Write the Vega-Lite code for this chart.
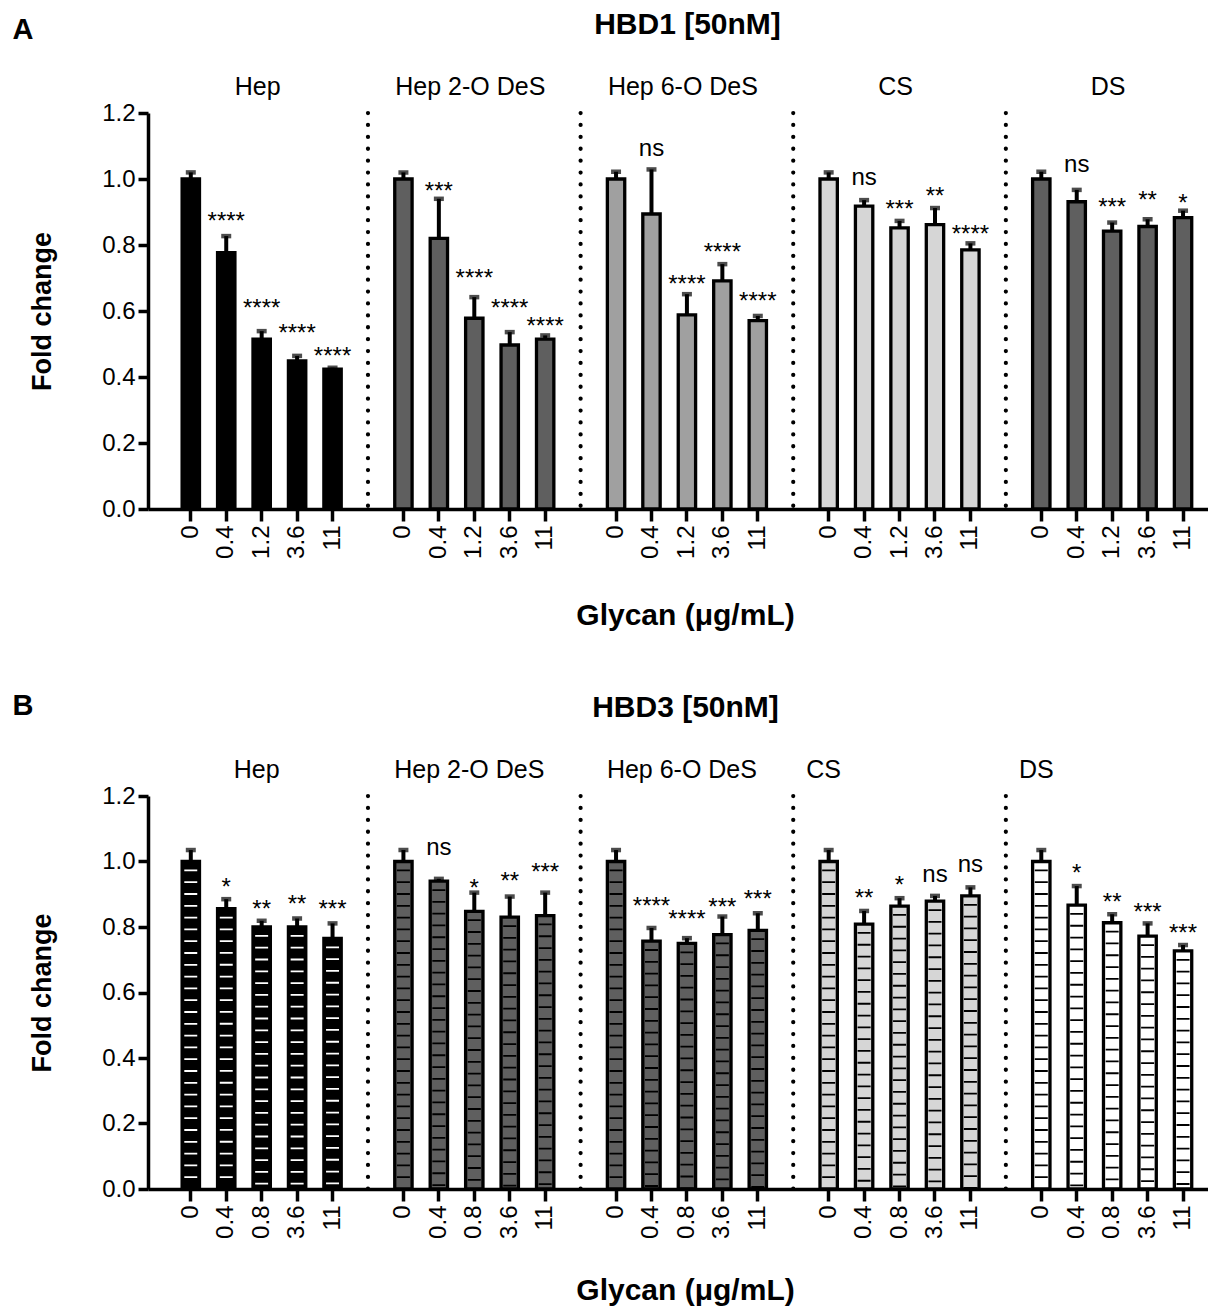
{
  "$schema": "https://vega.github.io/schema/vega-lite/v6.json",
  "padding": {"left": 12, "top": 9, "right": 0, "bottom": 0},
  "background": "white",
  "spacing": 60,
  "resolve": {"scale": {"color": "independent", "stroke": "independent"}},
  "config": {
    "font": "Liberation Sans",
    "view": {"stroke": null},
    "axis": {"grid": false, "domainColor": "#000", "tickColor": "#000", "labelColor": "#000", "titleColor": "#000", "labelFont": "Liberation Sans", "titleFont": "Liberation Sans"}
  },
  "datasets": {
    "hbd1": [
      {"g": "Hep", "c": "0", "k": "Hep|0", "v": 1.0, "e": 1.02, "s": "", "a": null},
      {"g": "Hep", "c": "0.4", "k": "Hep|0.4", "v": 0.777, "e": 0.827, "s": "****", "a": 0.891},
      {"g": "Hep", "c": "1.2", "k": "Hep|1.2", "v": 0.515, "e": 0.539, "s": "****", "a": 0.627},
      {"g": "Hep", "c": "3.6", "k": "Hep|3.6", "v": 0.449, "e": 0.464, "s": "****", "a": 0.552},
      {"g": "Hep", "c": "11", "k": "Hep|11", "v": 0.424, "e": 0.428, "s": "****", "a": 0.482},
      {"g": "Hep 2-O DeS", "c": "0", "k": "Hep 2-O DeS|0", "v": 1.0, "e": 1.02, "s": "", "a": null},
      {"g": "Hep 2-O DeS", "c": "0.4", "k": "Hep 2-O DeS|0.4", "v": 0.82, "e": 0.94, "s": "***", "a": 0.982},
      {"g": "Hep 2-O DeS", "c": "1.2", "k": "Hep 2-O DeS|1.2", "v": 0.578, "e": 0.642, "s": "****", "a": 0.718},
      {"g": "Hep 2-O DeS", "c": "3.6", "k": "Hep 2-O DeS|3.6", "v": 0.497, "e": 0.536, "s": "****", "a": 0.627},
      {"g": "Hep 2-O DeS", "c": "11", "k": "Hep 2-O DeS|11", "v": 0.515, "e": 0.526, "s": "****", "a": 0.573},
      {"g": "Hep 6-O DeS", "c": "0", "k": "Hep 6-O DeS|0", "v": 1.0, "e": 1.022, "s": "", "a": null},
      {"g": "Hep 6-O DeS", "c": "0.4", "k": "Hep 6-O DeS|0.4", "v": 0.894, "e": 1.029, "s": "ns", "a": 1.088},
      {"g": "Hep 6-O DeS", "c": "1.2", "k": "Hep 6-O DeS|1.2", "v": 0.588, "e": 0.651, "s": "****", "a": 0.70},
      {"g": "Hep 6-O DeS", "c": "3.6", "k": "Hep 6-O DeS|3.6", "v": 0.691, "e": 0.742, "s": "****", "a": 0.797},
      {"g": "Hep 6-O DeS", "c": "11", "k": "Hep 6-O DeS|11", "v": 0.571, "e": 0.585, "s": "****", "a": 0.648},
      {"g": "CS", "c": "0", "k": "CS|0", "v": 1.0, "e": 1.02, "s": "", "a": null},
      {"g": "CS", "c": "0.4", "k": "CS|0.4", "v": 0.918, "e": 0.936, "s": "ns", "a": 1.0},
      {"g": "CS", "c": "1.2", "k": "CS|1.2", "v": 0.852, "e": 0.873, "s": "***", "a": 0.927},
      {"g": "CS", "c": "3.6", "k": "CS|3.6", "v": 0.862, "e": 0.912, "s": "**", "a": 0.967},
      {"g": "CS", "c": "11", "k": "CS|11", "v": 0.785, "e": 0.805, "s": "****", "a": 0.852},
      {"g": "DS", "c": "0", "k": "DS|0", "v": 1.0, "e": 1.022, "s": "", "a": null},
      {"g": "DS", "c": "0.4", "k": "DS|0.4", "v": 0.931, "e": 0.967, "s": "ns", "a": 1.039},
      {"g": "DS", "c": "1.2", "k": "DS|1.2", "v": 0.842, "e": 0.868, "s": "***", "a": 0.933},
      {"g": "DS", "c": "3.6", "k": "DS|3.6", "v": 0.856, "e": 0.878, "s": "**", "a": 0.955},
      {"g": "DS", "c": "11", "k": "DS|11", "v": 0.883, "e": 0.904, "s": "*", "a": 0.945}
    ],
    "hbd3": [
      {"g": "Hep", "c": "0", "k": "Hep|0", "v": 1.0, "e": 1.035, "s": "", "a": null},
      {"g": "Hep", "c": "0.4", "k": "Hep|0.4", "v": 0.856, "e": 0.885, "s": "*", "a": 0.94},
      {"g": "Hep", "c": "0.8", "k": "Hep|0.8", "v": 0.8, "e": 0.819, "s": "**", "a": 0.872},
      {"g": "Hep", "c": "3.6", "k": "Hep|3.6", "v": 0.8, "e": 0.826, "s": "**", "a": 0.89},
      {"g": "Hep", "c": "11", "k": "Hep|11", "v": 0.765, "e": 0.811, "s": "***", "a": 0.872},
      {"g": "Hep 2-O DeS", "c": "0", "k": "Hep 2-O DeS|0", "v": 1.0, "e": 1.035, "s": "", "a": null},
      {"g": "Hep 2-O DeS", "c": "0.4", "k": "Hep 2-O DeS|0.4", "v": 0.94, "e": 0.947, "s": "ns", "a": 1.038},
      {"g": "Hep 2-O DeS", "c": "0.8", "k": "Hep 2-O DeS|0.8", "v": 0.848, "e": 0.905, "s": "*", "a": 0.937},
      {"g": "Hep 2-O DeS", "c": "3.6", "k": "Hep 2-O DeS|3.6", "v": 0.83, "e": 0.893, "s": "**", "a": 0.958},
      {"g": "Hep 2-O DeS", "c": "11", "k": "Hep 2-O DeS|11", "v": 0.835, "e": 0.905, "s": "***", "a": 0.986},
      {"g": "Hep 6-O DeS", "c": "0", "k": "Hep 6-O DeS|0", "v": 1.0, "e": 1.035, "s": "", "a": null},
      {"g": "Hep 6-O DeS", "c": "0.4", "k": "Hep 6-O DeS|0.4", "v": 0.757, "e": 0.797, "s": "****", "a": 0.882},
      {"g": "Hep 6-O DeS", "c": "0.8", "k": "Hep 6-O DeS|0.8", "v": 0.75, "e": 0.766, "s": "****", "a": 0.842},
      {"g": "Hep 6-O DeS", "c": "3.6", "k": "Hep 6-O DeS|3.6", "v": 0.777, "e": 0.832, "s": "***", "a": 0.878},
      {"g": "Hep 6-O DeS", "c": "11", "k": "Hep 6-O DeS|11", "v": 0.79, "e": 0.842, "s": "***", "a": 0.903},
      {"g": "CS", "c": "0", "k": "CS|0", "v": 1.0, "e": 1.035, "s": "", "a": null},
      {"g": "CS", "c": "0.4", "k": "CS|0.4", "v": 0.809, "e": 0.849, "s": "**", "a": 0.906},
      {"g": "CS", "c": "0.8", "k": "CS|0.8", "v": 0.864, "e": 0.888, "s": "*", "a": 0.946},
      {"g": "CS", "c": "3.6", "k": "CS|3.6", "v": 0.879, "e": 0.895, "s": "ns", "a": 0.955},
      {"g": "CS", "c": "11", "k": "CS|11", "v": 0.895, "e": 0.921, "s": "ns", "a": 0.986},
      {"g": "DS", "c": "0", "k": "DS|0", "v": 1.0, "e": 1.035, "s": "", "a": null},
      {"g": "DS", "c": "0.4", "k": "DS|0.4", "v": 0.867, "e": 0.925, "s": "*", "a": 0.983},
      {"g": "DS", "c": "0.8", "k": "DS|0.8", "v": 0.813, "e": 0.839, "s": "**", "a": 0.894},
      {"g": "DS", "c": "3.6", "k": "DS|3.6", "v": 0.772, "e": 0.811, "s": "***", "a": 0.863},
      {"g": "DS", "c": "11", "k": "DS|11", "v": 0.727, "e": 0.745, "s": "***", "a": 0.799}
    ],
    "seps": [{"sep": "gap1"}, {"sep": "gap2"}, {"sep": "gap3"}, {"sep": "gap4"}]
  },
  "vconcat": [
    {
      "width": 1060,
      "height": 396,
      "resolve": {"axis": {"x": "independent", "y": "independent"}},
      "layer": [
        {
          "data": {"name": "hbd1"},
          "mark": {"type": "bar", "stroke": "#000", "strokeWidth": 3.3},
          "encoding": {
            "x": {"field": "k", "type": "nominal",
              "scale": {"domain": ["Hep|0","Hep|0.4","Hep|1.2","Hep|3.6","Hep|11","gap1","Hep 2-O DeS|0","Hep 2-O DeS|0.4","Hep 2-O DeS|1.2","Hep 2-O DeS|3.6","Hep 2-O DeS|11","gap2","Hep 6-O DeS|0","Hep 6-O DeS|0.4","Hep 6-O DeS|1.2","Hep 6-O DeS|3.6","Hep 6-O DeS|11","gap3","CS|0","CS|0.4","CS|1.2","CS|3.6","CS|11","gap4","DS|0","DS|0.4","DS|1.2","DS|3.6","DS|11"], "paddingInner": 0.51, "paddingOuter": 0.711, "align": 0.677},
              "axis": {"values": ["Hep|0","Hep|0.4","Hep|1.2","Hep|3.6","Hep|11","Hep 2-O DeS|0","Hep 2-O DeS|0.4","Hep 2-O DeS|1.2","Hep 2-O DeS|3.6","Hep 2-O DeS|11","Hep 6-O DeS|0","Hep 6-O DeS|0.4","Hep 6-O DeS|1.2","Hep 6-O DeS|3.6","Hep 6-O DeS|11","CS|0","CS|0.4","CS|1.2","CS|3.6","CS|11","DS|0","DS|0.4","DS|1.2","DS|3.6","DS|11"],
                "labelExpr": "split(datum.value,'|')[1]", "labelAngle": -90, "labelFontSize": 24, "tickSize": 12, "tickWidth": 3.5, "domainWidth": 3.5, "labelPadding": 4, "labelOverlap": false,
                "title": "Glycan (μg/mL)", "titleFontSize": 30, "titleFontWeight": "bold", "titlePadding": 42, "titleX": 537}},
            "y": {"field": "v", "type": "quantitative", "scale": {"domain": [0, 1.2], "nice": false},
              "axis": {"title": "Fold change", "titleFontSize": 27, "titleFontWeight": "bold", "titlePadding": 45, "values": [0, 0.2, 0.4, 0.6, 0.8, 1.0, 1.2], "format": ".1f", "labelFontSize": 24, "tickSize": 10, "tickWidth": 3.5, "domainWidth": 3.5, "labelPadding": 3}},
            "color": {"field": "g", "type": "nominal", "legend": null,
              "scale": {"domain": ["Hep","Hep 2-O DeS","Hep 6-O DeS","CS","DS"], "range": ["#000000","#5f5f5f","#a0a0a0","#d6d6d6","#5f5f5f"]}}
          }
        },
        {
          "data": {"name": "seps"},
          "mark": {"type": "rule", "strokeDash": [0.1, 11.8], "strokeCap": "round", "strokeWidth": 4.2, "color": "#000"},
          "encoding": {
            "x": {"field": "sep", "type": "nominal",
              "axis": {"orient": "top", "values": ["Hep|1.2","Hep 2-O DeS|1.2","Hep 6-O DeS|1.2","CS|1.2","DS|1.2"], "labelExpr": "split(datum.value,'|')[0]", "domain": false, "ticks": false, "labelAngle": 0, "labelFontSize": 25, "labelPadding": 14, "labelOffset": -4,
                "title": "HBD1 [50nM]", "titleFontSize": 30, "titleFontWeight": "bold", "titlePadding": 35, "titleX": 539}}
          }
        },
        {
          "data": {"name": "hbd1"},
          "mark": {"type": "rule", "strokeWidth": 4, "color": "#000"},
          "encoding": {
            "x": {"field": "k", "type": "nominal", "axis": null},
            "y": {"field": "v", "type": "quantitative", "axis": null},
            "y2": {"field": "e"}
          }
        },
        {
          "data": {"name": "hbd1"},
          "mark": {"type": "tick", "thickness": 4.5, "size": 10, "color": "#000"},
          "encoding": {
            "x": {"field": "k", "type": "nominal", "axis": null},
            "y": {"field": "e", "type": "quantitative",
              "axis": {"orient": "left", "domain": false, "ticks": false, "labels": false, "title": "A", "titleAngle": 0, "titleAlign": "left", "titleBaseline": "alphabetic", "titleX": -136, "titleY": -75, "titleFontSize": 29, "titleFontWeight": "bold", "titlePadding": 0}}
          }
        },
        {
          "data": {"name": "hbd1"},
          "transform": [{"filter": "datum.s != 'ns' && datum.s != ''"}],
          "mark": {"type": "text", "fontSize": 24, "baseline": "middle", "dy": 7, "color": "#000"},
          "encoding": {
            "x": {"field": "k", "type": "nominal", "axis": null},
            "y": {"field": "a", "type": "quantitative", "axis": null},
            "text": {"field": "s", "type": "nominal"}
          }
        },
        {
          "data": {"name": "hbd1"},
          "transform": [{"filter": "datum.s == 'ns'"}],
          "mark": {"type": "text", "fontSize": 24, "baseline": "middle", "dy": -1, "color": "#000"},
          "encoding": {
            "x": {"field": "k", "type": "nominal", "axis": null},
            "y": {"field": "a", "type": "quantitative", "axis": null},
            "text": {"field": "s", "type": "nominal"}
          }
        }
      ]
    },
    {
      "width": 1060,
      "height": 393,
      "resolve": {"axis": {"x": "independent", "y": "independent"}},
      "layer": [
        {
          "data": {"name": "hbd3"},
          "mark": {"type": "bar", "strokeWidth": 0},
          "encoding": {
            "x": {"field": "k", "type": "nominal",
              "scale": {"domain": ["Hep|0","Hep|0.4","Hep|0.8","Hep|3.6","Hep|11","gap1","Hep 2-O DeS|0","Hep 2-O DeS|0.4","Hep 2-O DeS|0.8","Hep 2-O DeS|3.6","Hep 2-O DeS|11","gap2","Hep 6-O DeS|0","Hep 6-O DeS|0.4","Hep 6-O DeS|0.8","Hep 6-O DeS|3.6","Hep 6-O DeS|11","gap3","CS|0","CS|0.4","CS|0.8","CS|3.6","CS|11","gap4","DS|0","DS|0.4","DS|0.8","DS|3.6","DS|11"], "paddingInner": 0.51, "paddingOuter": 0.711, "align": 0.677},
              "axis": {"values": ["Hep|0","Hep|0.4","Hep|0.8","Hep|3.6","Hep|11","Hep 2-O DeS|0","Hep 2-O DeS|0.4","Hep 2-O DeS|0.8","Hep 2-O DeS|3.6","Hep 2-O DeS|11","Hep 6-O DeS|0","Hep 6-O DeS|0.4","Hep 6-O DeS|0.8","Hep 6-O DeS|3.6","Hep 6-O DeS|11","CS|0","CS|0.4","CS|0.8","CS|3.6","CS|11","DS|0","DS|0.4","DS|0.8","DS|3.6","DS|11"],
                "labelExpr": "split(datum.value,'|')[1]", "labelAngle": -90, "labelFontSize": 24, "tickSize": 12, "tickWidth": 3.5, "domainWidth": 3.5, "labelPadding": 4, "labelOverlap": false,
                "title": "Glycan (μg/mL)", "titleFontSize": 30, "titleFontWeight": "bold", "titlePadding": 37, "titleX": 537}},
            "y": {"field": "v", "type": "quantitative", "scale": {"domain": [0, 1.2], "nice": false},
              "axis": {"title": "Fold change", "titleFontSize": 27, "titleFontWeight": "bold", "titlePadding": 45, "values": [0, 0.2, 0.4, 0.6, 0.8, 1.0, 1.2], "format": ".1f", "labelFontSize": 24, "tickSize": 10, "tickWidth": 3.5, "domainWidth": 3.5, "labelPadding": 3}},
            "color": {"field": "g", "type": "nominal", "legend": null,
              "scale": {"domain": ["Hep","Hep 2-O DeS","Hep 6-O DeS","CS","DS"], "range": ["#000000","#5f5f5f","#5f5f5f","#d6d6d6","#ffffff"]}}
          }
        },
        {
          "data": {"name": "hbd3"},
          "mark": {"type": "rule", "strokeWidth": 13, "strokeDash": [1.8, 10], "strokeDashOffset": 3.8},
          "encoding": {
            "x": {"field": "k", "type": "nominal", "axis": null},
            "y": {"field": "v", "type": "quantitative", "axis": null},
            "y2": {"datum": 0},
            "stroke": {"field": "g", "type": "nominal", "legend": null,
              "scale": {"domain": ["Hep","Hep 2-O DeS","Hep 6-O DeS","CS","DS"], "range": ["#ffffff","#000000","#000000","#000000","#000000"]}}
          }
        },
        {
          "data": {"name": "hbd3"},
          "mark": {"type": "bar", "fill": "transparent", "stroke": "#000", "strokeWidth": 3.3},
          "encoding": {
            "x": {"field": "k", "type": "nominal", "axis": null},
            "y": {"field": "v", "type": "quantitative", "axis": null}
          }
        },
        {
          "data": {"name": "seps"},
          "mark": {"type": "rule", "strokeDash": [0.1, 11.8], "strokeCap": "round", "strokeWidth": 4.2, "color": "#000"},
          "encoding": {
            "x": {"field": "sep", "type": "nominal",
              "axis": {"orient": "top", "values": ["Hep|0.8","Hep 2-O DeS|0.8","Hep 6-O DeS|0.8","CS|0","DS|0"], "labelExpr": "split(datum.value,'|')[0]", "domain": false, "ticks": false, "labelAngle": 0, "labelFontSize": 25, "labelPadding": 14, "labelOffset": -5,
                "title": "HBD3 [50nM]", "titleFontSize": 30, "titleFontWeight": "bold", "titlePadding": 35, "titleX": 537}}
          }
        },
        {
          "data": {"name": "hbd3"},
          "mark": {"type": "rule", "strokeWidth": 4, "color": "#000"},
          "encoding": {
            "x": {"field": "k", "type": "nominal", "axis": null},
            "y": {"field": "v", "type": "quantitative", "axis": null},
            "y2": {"field": "e"}
          }
        },
        {
          "data": {"name": "hbd3"},
          "mark": {"type": "tick", "thickness": 4.5, "size": 10, "color": "#000"},
          "encoding": {
            "x": {"field": "k", "type": "nominal", "axis": null},
            "y": {"field": "e", "type": "quantitative",
              "axis": {"orient": "left", "domain": false, "ticks": false, "labels": false, "title": "B", "titleAngle": 0, "titleAlign": "left", "titleBaseline": "alphabetic", "titleX": -136, "titleY": -82, "titleFontSize": 29, "titleFontWeight": "bold", "titlePadding": 0}}
          }
        },
        {
          "data": {"name": "hbd3"},
          "transform": [{"filter": "datum.s != 'ns' && datum.s != ''"}],
          "mark": {"type": "text", "fontSize": 24, "baseline": "middle", "dy": 7, "color": "#000"},
          "encoding": {
            "x": {"field": "k", "type": "nominal", "axis": null},
            "y": {"field": "a", "type": "quantitative", "axis": null},
            "text": {"field": "s", "type": "nominal"}
          }
        },
        {
          "data": {"name": "hbd3"},
          "transform": [{"filter": "datum.s == 'ns'"}],
          "mark": {"type": "text", "fontSize": 24, "baseline": "middle", "dy": -1, "color": "#000"},
          "encoding": {
            "x": {"field": "k", "type": "nominal", "axis": null},
            "y": {"field": "a", "type": "quantitative", "axis": null},
            "text": {"field": "s", "type": "nominal"}
          }
        }
      ]
    }
  ]
}
